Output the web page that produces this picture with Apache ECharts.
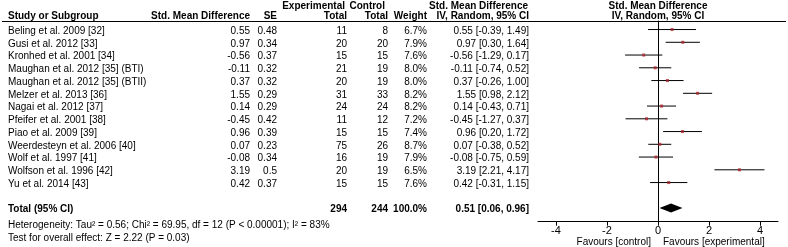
<!DOCTYPE html>
<html>
<head>
<meta charset="utf-8">
<script src="https://cdn.jsdelivr.net/npm/echarts@6/dist/echarts.min.js"></script>
<style>
  html,body{margin:0;padding:0;background:#fff;}
  #chart{width:788px;height:247px;}
</style>
</head>
<body>
<div id="chart"></div>
<script>
var studies = ['Beling et al. 2009 [32]','Gusi et al. 2012 [33]','Kronhed et al. 2001 [34]',
  'Maughan et al. 2012 [35] (BTI)','Maughan et al. 2012 [35] (BTII)','Melzer et al. 2013 [36]',
  'Nagai et al. 2012 [37]','Pfeifer et al. 2001 [38]','Piao et al. 2009 [39]',
  'Weerdesteyn et al. 2006 [40]','Wolf et al. 1997 [41]','Wolfson et al. 1996 [42]','Yu et al. 2014 [43]'];
var smd = ['0.55','0.97','-0.56','-0.11','0.37','1.55','0.14','-0.45','0.96','0.07','-0.08','3.19','0.42'];
var se = ['0.48','0.34','0.37','0.32','0.32','0.29','0.29','0.42','0.39','0.23','0.34','0.5','0.37'];
var expTotal = [11,20,15,21,20,31,24,11,15,75,16,20,15];
var ctrlTotal = [8,20,15,19,19,33,24,12,15,26,19,19,15];
var weight = ['6.7%','7.9%','7.6%','8.0%','8.0%','8.2%','8.2%','7.2%','7.4%','8.7%','7.9%','6.5%','7.6%'];
var ciLow = ['-0.39','0.30','-1.29','-0.74','-0.26','0.98','-0.43','-1.27','0.20','-0.38','-0.75','2.21','-0.31'];
var ciHigh = ['1.49','1.64','0.17','0.52','1.00','2.12','0.71','0.37','1.72','0.52','0.59','4.17','1.15'];
var total = {exp: 294, ctrl: 244, weight: '100.0%', est: '0.51', lo: '0.06', hi: '0.96'};
var xTicks = [-4,-2,0,2,4];
var totalRow = 14;

var font = '"Liberation Sans", Arial, sans-serif';
var chart = echarts.init(document.getElementById('chart'), null, {renderer:'canvas'});

var ciData = studies.map(function(s,i){ return [+ciLow[i], +ciHigh[i], i]; });
var ptData = studies.map(function(s,i){ return [+smd[i], i]; });

var option = {
  animation: false,
  grid: {left: 538, top: 21, width: 240, height: 200.7, outerBoundsMode: 'none'},
  xAxis: {
    type: 'value', min: -4.7, max: 4.7,
    axisLine: {onZero: false, lineStyle: {color: '#000', width: 1}},
    axisTick: {customValues: xTicks, length: 4, lineStyle: {color: '#000'}},
    axisLabel: {customValues: xTicks, color: '#000', fontSize: 11, fontFamily: font, margin: 4},
    splitLine: {show: false}
  },
  yAxis: {
    type: 'value', inverse: true, min: -0.67, max: 15.07,
    axisLine: {show: true, onZero: true, lineStyle: {color: '#000', width: 1}},
    axisTick: {show: false}, axisLabel: {show: false}, splitLine: {show: false}
  },
  series: [
    {
      type: 'custom', data: ciData,
      renderItem: function(params, api){
        var a = api.coord([api.value(0), api.value(2)]);
        var b = api.coord([api.value(1), api.value(2)]);
        return {type: 'line', shape: {x1: a[0], y1: a[1], x2: b[0], y2: b[1]},
          style: {stroke: '#000', lineWidth: 1}};
      }
    },
    {
      type: 'scatter', data: ptData, symbol: 'rect', symbolSize: 3,
      itemStyle: {color: '#a8232b'}, z: 3
    },
    {
      type: 'custom', data: [[+total.lo, +total.est, +total.hi, totalRow]],
      renderItem: function(params, api){
        var y = api.value(3);
        var l = api.coord([api.value(0), y]);
        var m = api.coord([api.value(1), y]);
        var r = api.coord([api.value(2), y]);
        var h = 4.5;
        return {type: 'polygon', shape: {points: [[l[0], l[1]], [m[0], m[1]-h], [r[0], r[1]], [m[0], m[1]+h]]},
          style: {fill: '#000'}};
      }
    }
  ]
};
chart.setOption(option);

// table text, placed on the same row scale as the plot
function rowY(r){ return chart.convertToPixel({yAxisIndex: 0}, r) + 1.5; }
function txt(x, y, s, align, bold){
  return {type: 'text', x: x, y: y, silent: true,
    style: {text: s, fill: '#000', font: (bold ? 'bold ' : '') + '10px ' + font,
      textAlign: align, textVerticalAlign: 'middle'}};
}
var g = [];
var hA = 6, hB = 16.5;
g.push(txt(345, hA, 'Experimental', 'right', true));
g.push(txt(385, hA, 'Control', 'right', true));
g.push(txt(528, hA, 'Std. Mean Difference', 'right', true));
g.push(txt(658, hA, 'Std. Mean Difference', 'center', true));
g.push(txt(8, hB, 'Study or Subgroup', 'left', true));
g.push(txt(250, hB, 'Std. Mean Difference', 'right', true));
g.push(txt(277, hB, 'SE', 'right', true));
g.push(txt(347, hB, 'Total', 'right', true));
g.push(txt(388, hB, 'Total', 'right', true));
g.push(txt(427, hB, 'Weight', 'right', true));
g.push(txt(529, hB, 'IV, Random, 95% CI', 'right', true));
g.push(txt(658, hB, 'IV, Random, 95% CI', 'center', true));
g.push({type: 'line', silent: true, shape: {x1: 2, y1: 21.5, x2: 786, y2: 21.5},
  style: {stroke: '#000', lineWidth: 1}});

studies.forEach(function(s, i){
  var y = rowY(i);
  g.push(txt(8, y, s, 'left'));
  g.push(txt(250, y, smd[i], 'right'));
  g.push(txt(277, y, se[i], 'right'));
  g.push(txt(347, y, String(expTotal[i]), 'right'));
  g.push(txt(388, y, String(ctrlTotal[i]), 'right'));
  g.push(txt(427, y, weight[i], 'right'));
  g.push(txt(529, y, smd[i] + ' [' + ciLow[i] + ', ' + ciHigh[i] + ']', 'right'));
});
var ty = rowY(totalRow);
g.push(txt(8, ty, 'Total (95% CI)', 'left', true));
g.push(txt(347, ty, String(total.exp), 'right', true));
g.push(txt(388, ty, String(total.ctrl), 'right', true));
g.push(txt(427, ty, total.weight, 'right', true));
g.push(txt(529, ty, total.est + ' [' + total.lo + ', ' + total.hi + ']', 'right', true));
g.push(txt(8, ty + 16, 'Heterogeneity: Tau\u00b2 = 0.56; Chi\u00b2 = 69.95, df = 12 (P < 0.00001); I\u00b2 = 83%', 'left'));
g.push(txt(8, ty + 29, 'Test for overall effect: Z = 2.22 (P = 0.03)', 'left'));

var zx = chart.convertToPixel({xAxisIndex: 0}, 0);
g.push(txt(zx - 7, 242, 'Favours [control]', 'right'));
g.push(txt(zx + 5, 242, 'Favours [experimental]', 'left'));

chart.setOption({graphic: {elements: g}});
</script>
</body>
</html>
